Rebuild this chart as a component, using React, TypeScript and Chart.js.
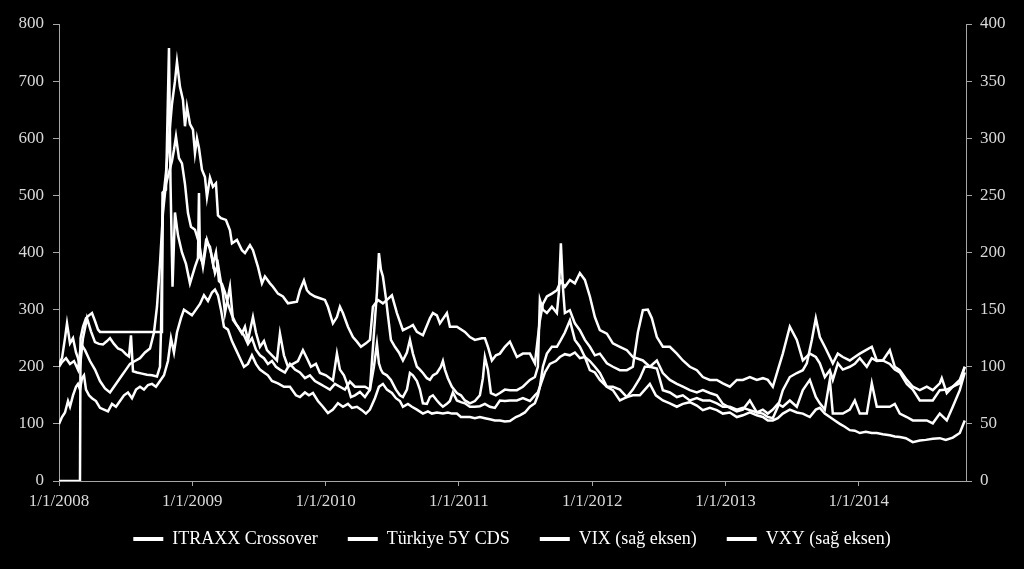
import React, { useEffect, useRef } from "react";
import { Chart, registerables } from "chart.js";

Chart.register(...registerables);

// x axis: months since 1/1/2008
const yearTickMonths = [0, 12, 24, 36, 48, 60, 72];
const yearTickLabels = ["1/1/2008", "1/1/2009", "1/1/2010", "1/1/2011", "1/1/2012", "1/1/2013", "1/1/2014"];
const xMaxMonths = 81.65;

const seriesNames = ["ITRAXX Crossover", "Türkiye 5Y CDS", "VIX (sağ eksen)", "VXY (sağ eksen)"];

// ITRAXX Crossover (left axis)
const itraxxMonths = [0,0.27,0.54,0.72,0.99,1.26,1.53,1.71,1.89,2.16,2.52,2.88,3.24,3.6,3.96,4.32,4.59,4.95,5.31,5.67,6.03,6.3,6.48,6.66,7.02,7.47,7.92,8.37,8.82,9.09,9.18,9.36,9.63,9.9,10.17,10.44,10.62,10.89,11.16,11.34,11.52,11.79,12.06,12.24,12.42,12.6,12.87,13.14,13.32,13.59,13.86,14.13,14.31,14.58,15.03,15.39,15.57,16.02,16.47,16.74,17.19,17.46,17.91,18.27,18.54,18.99,19.26,19.71,20.16,20.61,21.42,21.69,22.05,22.32,22.59,23.04,23.49,23.94,24.21,24.66,25.02,25.29,25.56,26.01,26.46,26.82,27.18,27.63,27.99,28.26,28.71,29.16,29.52,29.97,30.42,30.96,31.59,31.86,32.22,32.76,33.39,33.66,34.02,34.29,34.92,35.19,35.82,36.54,36.99,37.44,38.07,38.34,38.61,38.97,39.33,39.69,40.14,40.59,41.22,41.76,42.39,42.84,43.29,43.56,43.92,44.37,44.82,45.18,45.54,45.99,46.44,46.89,47.34,47.79,48.24,48.69,49.32,49.86,50.49,51.12,51.66,52.56,53.19,53.82,54.36,54.99,55.62,56.16,56.79,57.42,57.96,58.59,59.22,59.76,60.39,61.02,61.56,62.19,62.82,63.36,63.81,64.26,64.71,65.16,65.79,66.42,66.96,67.32,67.77,68.13,68.49,68.94,69.39,69.66,70.11,70.56,71.19,71.64,72.09,72.72,73.17,73.62,74.16,74.79,75.24,75.69,76.32,76.86,77.49,78.12,78.66,79.29,79.47,79.92,80.46,81.09,81.54];
const itraxxValues = [205,215,250,276,241,250,225,215,200,250,285,262,243,240,239,245,250,240,232,229,222,218,255,192,190,188,186,185,183,200,260,490,540,600,660,700,734,690,667,621,655,625,615,574,600,583,545,532,497,531,515,521,465,460,457,439,416,422,404,399,413,404,375,346,358,346,340,328,323,311,314,334,351,334,328,323,320,317,305,276,287,305,294,270,252,244,235,241,247,305,317,311,317,325,294,264,270,273,261,255,285,294,290,276,294,270,270,261,252,247,250,250,235,211,220,223,235,244,217,223,223,206,281,310,323,328,334,350,340,352,346,364,352,323,287,264,258,241,235,229,217,211,200,211,189,177,170,165,159,155,159,154,150,135,128,122,125,141,120,118,112,110,130,159,182,189,194,206,247,285,252,235,217,206,223,217,211,217,223,230,235,211,211,229,200,194,177,165,159,165,159,171,180,154,165,177,200];

// Türkiye 5Y CDS (left axis)
const turkeyMonths = [0,1.89,1.94,2.16,2.43,2.7,2.97,3.24,3.51,3.69,9.27,9.32,9.63,9.9,10.04,10.22,10.44,10.71,11.07,11.43,11.79,12.24,12.51,12.6,12.69,12.96,13.23,13.59,13.86,14.13,14.4,14.67,14.94,15.21,15.57,15.93,16.29,16.65,17.01,17.37,17.73,18.09,18.45,18.81,19.17,19.53,19.89,20.34,20.79,21.24,21.69,22.14,22.59,23.04,23.49,23.94,24.39,24.84,25.29,25.74,26.19,26.64,27.09,27.54,27.99,28.35,28.62,28.8,28.98,29.16,29.52,29.88,30.33,30.69,30.96,31.32,31.59,31.86,32.22,32.49,32.76,33.12,33.39,33.66,34.02,34.29,34.56,34.92,35.19,35.46,35.82,36.18,36.54,36.99,37.44,37.89,38.34,38.79,39.24,39.69,40.14,40.59,41.22,41.76,42.39,42.84,43.11,43.29,43.56,43.92,44.37,44.82,45.18,45.54,45.99,46.44,46.89,47.34,47.79,48.24,48.69,49.32,49.86,50.49,51.12,51.66,52.29,52.74,53.19,53.82,54.36,54.99,55.62,56.16,56.79,57.42,57.96,58.59,59.22,59.76,60.39,61.02,61.56,62.19,62.82,63.36,63.81,64.26,64.71,65.16,65.79,66.42,66.96,67.59,68.13,68.49,68.94,69.39,69.66,70.11,70.56,71.19,71.64,72.09,72.72,73.17,73.62,74.16,74.79,75.24,75.69,76.32,76.86,77.49,78.12,78.66,79.29,79.92,80.46,81.09,81.54];
const turkeyValues = [0,0,250,270,285,290,294,280,265,261,261,505,510,758,520,340,470,430,400,380,346,375,390,504,393,380,420,410,380,400,350,345,330,310,290,275,265,255,240,250,230,220,215,205,210,200,195,190,205,195,190,180,185,175,170,165,160,170,165,160,174,165,165,165,160,200,240,206,195,189,185,177,160,150,147,160,189,185,175,160,136,135,147,150,141,135,130,135,140,155,141,138,136,130,130,131,135,130,128,141,140,141,141,145,140,150,155,165,200,223,235,235,247,260,281,247,235,217,210,200,189,165,159,141,147,160,180,200,200,197,159,155,147,150,141,145,141,141,136,130,130,125,128,124,120,125,118,125,135,130,141,130,159,177,147,136,125,177,118,118,118,125,141,118,118,171,130,130,130,135,118,112,106,106,106,101,118,106,130,159,190];

// VIX (right axis)
const vixMonths = [0,0.27,0.63,0.99,1.35,1.71,1.98,2.34,2.79,3.24,3.69,4.14,4.59,4.95,5.31,5.67,6.03,6.39,6.84,7.29,7.74,8.19,8.55,8.82,9.09,9.36,9.63,9.9,10.17,10.35,10.53,10.8,11.07,11.34,11.61,11.88,12.24,12.6,12.96,13.32,13.68,14.04,14.31,14.49,14.76,14.94,15.39,15.66,16.11,16.47,16.74,17.01,17.46,17.73,18.09,18.45,18.72,19.17,19.62,19.89,20.25,20.61,21.06,21.51,21.96,22.32,22.68,23.13,23.49,24.03,24.66,25.02,25.29,25.65,25.92,26.28,26.64,27.09,27.54,27.99,28.35,28.62,28.8,28.98,29.16,29.43,29.61,29.88,30.24,30.6,30.96,31.32,31.59,31.86,32.22,32.49,32.76,33.12,33.39,33.66,34.02,34.38,34.56,34.74,35.01,35.37,35.82,36.18,36.54,36.99,37.44,37.89,38.16,38.34,38.61,38.88,39.33,39.69,40.14,40.59,41.22,41.76,42.39,42.84,43.11,43.29,43.56,43.92,44.37,44.82,45.0,45.18,45.36,45.54,45.99,46.44,46.89,47.34,47.79,48.24,48.69,49.32,49.86,50.49,51.12,51.66,52.11,52.56,53.01,53.37,53.82,54.36,54.99,55.62,56.16,56.79,57.42,57.96,58.59,59.22,59.76,60.39,61.02,61.56,62.19,62.82,63.36,63.81,64.26,64.71,65.16,65.79,66.42,66.96,67.59,68.13,68.49,68.94,69.39,69.66,70.11,70.56,71.19,71.64,72.09,72.72,73.17,73.62,74.16,74.79,75.24,75.69,76.32,76.86,77.49,78.12,78.66,79.29,79.92,80.46,81.09,81.54];
const vixValues = [100,104,107.5,102.5,105,97.5,120,114.5,105,97.5,87.5,81,77.5,82.5,87.5,92.5,97.5,102.5,105,107.5,112.5,116,130,152.5,190,235,260,270,280,290,301.5,282.5,278,260,234.5,222.5,220,208.5,187.5,211,200,182,190,179,164,147,170,141,135,129,135,123,143.5,130,117.5,122.5,114.5,110,105.5,129,110,100,102.5,105,114.5,107.5,100,102.5,94.5,92.5,88,111.5,97.5,92.5,85.5,73.5,75,78,73.5,80,129,165,199.5,185,179,160,145,123.5,117.5,112.5,105.5,112.5,123.5,111.5,100,97.5,94.5,90,88.5,92.5,94.5,100,105,97.5,90,82.5,77,75,70.5,68,70,75,90,108.5,97.5,77,75,77,80,79.5,79.5,82.5,88.5,91,100,158.5,150,147,152.5,147,165,208,170,147,149.5,138,132,123.5,117.5,110,111.5,103,100,97,97,100,130,149.5,150,142.5,126,117.5,117.5,111.5,105.5,100,97,91,88.5,88.5,85.5,82.5,88.5,88.5,91,88.5,90,88.5,82.5,97,111.5,135,123.5,105.5,111.5,108.5,103,91,97,88.5,103,97.5,100,102.5,107.5,100,107.5,105,105.5,102.5,97.5,95,85,80,70.5,70.5,70.5,79.5,80,82.5,85.5,100];

// VXY (right axis)
const vxyMonths = [0,0.27,0.54,0.81,0.99,1.26,1.53,1.71,1.89,2.07,2.25,2.43,2.7,2.97,3.33,3.69,4.05,4.41,4.77,5.13,5.49,5.85,6.21,6.57,6.93,7.29,7.65,8.01,8.37,8.73,9.09,9.45,9.81,10.08,10.35,10.62,10.98,11.25,11.61,11.97,12.33,12.69,13.05,13.41,13.77,14.04,14.31,14.58,14.85,15.21,15.57,15.93,16.29,16.65,17.01,17.37,17.73,18.09,18.45,18.81,19.17,19.71,20.25,20.79,21.33,21.69,22.14,22.5,22.86,23.31,23.76,24.21,24.66,25.11,25.56,26.01,26.37,26.82,27.27,27.63,27.99,28.44,28.8,29.16,29.52,29.97,30.33,30.69,30.96,31.41,31.77,32.22,32.76,33.21,33.57,34.02,34.56,35.01,35.37,35.82,36.18,36.54,36.99,37.44,37.89,38.34,38.79,39.24,39.69,40.14,40.59,41.13,41.49,41.94,42.39,42.84,43.11,43.29,43.74,44.19,44.73,45.09,45.54,45.99,46.44,46.89,47.34,47.79,48.24,48.69,49.32,49.86,50.49,51.12,51.66,52.29,52.74,53.19,53.73,54.36,54.99,55.62,56.16,56.79,57.42,57.96,58.59,59.22,59.76,60.39,61.02,61.56,62.19,62.82,63.36,63.81,64.26,64.71,65.16,65.79,66.42,66.96,67.59,68.13,68.49,68.94,69.39,69.84,70.29,70.74,71.19,71.64,72.09,72.63,73.17,73.62,74.16,74.79,75.24,75.69,76.23,76.86,77.49,78.03,78.66,79.29,79.83,80.46,81.09,81.54];
const vxyValues = [50,56,60,70,65,75,82.5,85,80,90,92.5,80,75,72.5,70,64,62.5,61,67.5,65,70,75,77.5,72.5,80,82.5,80,84,85,82.5,87.5,92.5,105,125,112.5,130,142.5,150,147.5,145,150,155,162.5,157.5,165,167.5,162.5,150,135,132.5,122.5,115,107.5,100,102.5,110,102.5,97.5,95,92.5,87.5,85.5,82.5,82.5,75,73.5,77.5,75,77,70,65,59.5,62.5,68,65,67.5,64,65,62,59,62.5,72.5,82.5,85,80,77,72.5,70,65,67.5,65,62.5,59,61,59,60,59,60,59,59,56,56,56,55,56,55,54,53,53,52,52.5,56,57.5,60,65,68,75,82.5,95,102.5,105,108.5,111,110,112.5,107.5,108.5,97,95,88.5,82.5,82.5,80,73.5,75,75,80,85,75,70.5,68,65,67.5,69,66,62,64,62,59,60,56,57.5,60,57.5,56,53,53,55,59,62.5,60,59,56,62.5,64,59,56,53,50,47.5,44.5,44,42,43,42,42,41,40,39,38.5,37.5,34,35.5,36,37,37.5,36,38,42,53];

const FONT = "'Liberation Serif', 'Times New Roman', serif";
const AXIS_COLOR = "#a6a6a6";
const TICK_COLOR = "#d9d9d9";
const LINE_COLOR = "#ffffff";
const LEGEND_PADDING = 30;
const LEGEND_FONT_SIZE = 18;
const LEGEND_CENTER_Y = 539;

function zip(xs: number[], ys: number[]) {
  const n = Math.min(xs.length, ys.length);
  const out: { x: number; y: number }[] = [];
  for (let i = 0; i < n; i++) out.push({ x: xs[i], y: ys[i] });
  return out;
}

// moves the legend row to the reference's vertical position
const legendShift = {
  id: "legendShift",
  afterLayout(chart: any) {
    const l = chart.legend;
    if (!l) return;
    const currentCenter = l.top + LEGEND_PADDING + LEGEND_FONT_SIZE / 2;
    const dy = LEGEND_CENTER_Y - currentCenter;
    l.top += dy;
    l.bottom += dy;
  },
};

export default function App() {
  const canvasRef = useRef<HTMLCanvasElement | null>(null);

  useEffect(() => {
    if (!canvasRef.current) return;
    const mk = (label: string, data: { x: number; y: number }[], axis: string) => ({
      label,
      data,
      yAxisID: axis,
      borderColor: LINE_COLOR,
      backgroundColor: LINE_COLOR,
      borderWidth: 2.5,
      pointRadius: 0,
      tension: 0,
      fill: false,
    });
    const chart = new Chart(canvasRef.current, {
      type: "line",
      data: {
        datasets: [
          mk(seriesNames[0], zip(itraxxMonths, itraxxValues), "y"),
          mk(seriesNames[1], zip(turkeyMonths, turkeyValues), "y"),
          mk(seriesNames[2], zip(vixMonths, vixValues), "y1"),
          mk(seriesNames[3], zip(vxyMonths, vxyValues), "y1"),
        ],
      },
      plugins: [legendShift],
      options: {
        animation: false,
        responsive: true,
        maintainAspectRatio: false,
        layout: { padding: { top: 24, bottom: 0, left: 0, right: 0 } },
        plugins: {
          tooltip: { enabled: false },
          legend: {
            position: "bottom",
            labels: {
              color: "#ffffff",
              font: { family: FONT, size: LEGEND_FONT_SIZE },
              boxWidth: 30,
              boxHeight: 4,
              padding: LEGEND_PADDING,
              generateLabels: (c: any) =>
                (Chart.defaults.plugins.legend.labels.generateLabels as any)(c).map((l: any) => ({
                  ...l,
                  lineWidth: 0,
                  fillStyle: LINE_COLOR,
                  strokeStyle: LINE_COLOR,
                  fontColor: "#ffffff",
                })),
            },
          },
        },
        scales: {
          x: {
            type: "linear",
            min: 0,
            max: xMaxMonths,
            afterBuildTicks: (s: any) => {
              s.ticks = yearTickMonths.map((v) => ({ value: v }));
            },
            afterFit: (s: any) => {
              s.height = 30;
            },
            grid: { display: true, drawOnChartArea: false, drawTicks: true, tickLength: 5, color: AXIS_COLOR },
            border: { display: true, color: AXIS_COLOR, width: 1 },
            ticks: {
              color: TICK_COLOR,
              font: { family: FONT, size: 17 },
              padding: 5,
              maxRotation: 0,
              autoSkip: false,
              callback: (_v: any, i: number) => yearTickLabels[i],
            },
          },
          y: {
            position: "left",
            min: 0,
            max: 800,
            afterFit: (s: any) => {
              s.width = 59;
            },
            grid: { display: true, drawOnChartArea: false, drawTicks: true, tickLength: 6, color: AXIS_COLOR },
            border: { display: true, color: AXIS_COLOR, width: 1 },
            ticks: { stepSize: 100, color: TICK_COLOR, font: { family: FONT, size: 17 }, padding: 9 },
          },
          y1: {
            position: "right",
            min: 0,
            max: 400,
            afterFit: (s: any) => {
              s.width = 58;
            },
            grid: { display: true, drawOnChartArea: false, drawTicks: true, tickLength: 6, color: AXIS_COLOR },
            border: { display: true, color: AXIS_COLOR, width: 1 },
            ticks: { stepSize: 50, color: TICK_COLOR, font: { family: FONT, size: 17 }, padding: 8 },
          },
        },
      } as any,
    });
    return () => chart.destroy();
  }, []);

  return (
    <div
      style={{
        position: "absolute",
        left: 0,
        top: 0,
        width: 1024,
        height: 569,
        background: "#000000",
      }}
    >
      <canvas ref={canvasRef} />
    </div>
  );
}
